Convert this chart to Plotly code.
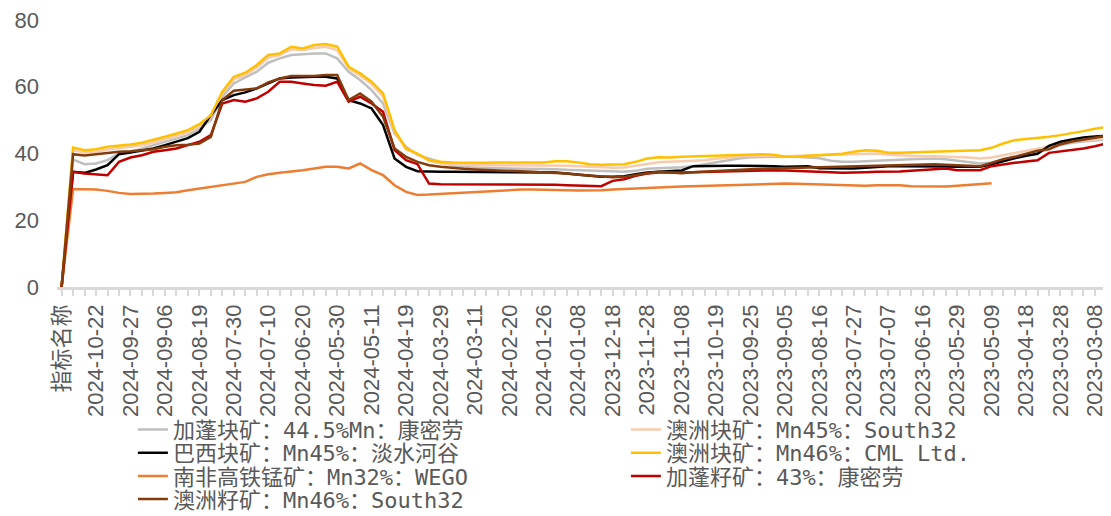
import plotly.graph_objects as go

# categories (newest first, as in the source sheet)
dates = [
    "指标名称",
    "2024-11-04", "2024-10-29", "2024-10-22",
    "2024-10-15", "2024-10-09", "2024-09-27",
    "2024-09-20", "2024-09-13", "2024-09-06",
    "2024-08-30", "2024-08-26", "2024-08-19",
    "2024-08-12", "2024-08-06", "2024-07-30",
    "2024-07-24", "2024-07-17", "2024-07-10",
    "2024-07-03", "2024-06-27", "2024-06-20",
    "2024-06-13", "2024-06-06", "2024-05-30",
    "2024-05-24", "2024-05-17", "2024-05-11",
    "2024-05-06", "2024-04-26", "2024-04-19",
    "2024-04-12", "2024-04-03", "2024-03-29",
    "2024-03-22", "2024-03-15", "2024-03-11",
    "2024-03-04", "2024-02-26", "2024-02-20",
    "2024-02-07", "2024-02-01", "2024-01-26",
    "2024-01-19", "2024-01-12", "2024-01-08",
    "2024-01-02", "2023-12-25", "2023-12-18",
    "2023-12-11", "2023-12-04", "2023-11-28",
    "2023-11-21", "2023-11-14", "2023-11-08",
    "2023-11-01", "2023-10-25", "2023-10-19",
    "2023-10-12", "2023-09-28", "2023-09-25",
    "2023-09-18", "2023-09-11", "2023-09-05",
    "2023-08-29", "2023-08-22", "2023-08-16",
    "2023-08-09", "2023-08-02", "2023-07-27",
    "2023-07-20", "2023-07-13", "2023-07-07",
    "2023-06-30", "2023-06-26", "2023-06-16",
    "2023-06-09", "2023-06-02", "2023-05-29",
    "2023-05-22", "2023-05-16", "2023-05-09",
    "2023-04-28", "2023-04-24", "2023-04-18",
    "2023-04-11", "2023-04-04", "2023-03-28",
    "2023-03-21", "2023-03-15", "2023-03-08",
    "2023-03-01", "2023-02-22",
]

tick_labels = [
    "指标名称", "2024-10-22", "2024-09-27", "2024-09-06", "2024-08-19",
    "2024-07-30", "2024-07-10", "2024-06-20", "2024-05-30", "2024-05-11",
    "2024-04-19", "2024-03-29", "2024-03-11", "2024-02-20", "2024-01-26",
    "2024-01-08", "2023-12-18", "2023-11-28", "2023-11-08", "2023-10-19",
    "2023-09-25", "2023-09-05", "2023-08-16", "2023-07-27", "2023-07-07",
    "2023-06-16", "2023-05-29", "2023-05-09", "2023-04-18", "2023-03-28",
    "2023-03-08",
]

gabon_lump = [
    0, 38.2, 36.8, 37, 38, 40, 40.5, 41.5, 42.5, 43.5,
    44.5, 45.5, 47.5, 50, 57, 61, 62.8, 64.5, 67.2, 68.5,
    69.5, 69.8, 70, 70, 68.5, 64.5, 62, 59, 55, 46,
    42, 39.5, 38.4, 37.5, 36.5, 36, 35.8, 35.6, 35.6, 35.5,
    35.5, 35.5, 35.4, 35.3, 35.1, 35, 34.8, 34.6, 34.5, 34.5,
    34.8, 35.4, 35.6, 35.7, 35.9, 36.2, 36.8, 37.4, 38, 38.5,
    38.9, 39, 39, 39, 39, 38.9, 38.6, 37.8, 37.5, 37.5,
    37.6, 37.8, 38, 38.1, 38.3, 38.4, 38.5, 38.3, 37.9, 37.5,
    37, 37.3, 38.2, 39, 39.8, 40.4, 41.2, 42.5, 43.2, 43.6,
    43.9, 44.3, 44.5,
]

aus_lump_s32 = [
    0, 41, 40.3, 40.5, 41.2, 41.6, 42, 42.5, 43.3, 44.3,
    45.3, 46.3, 48, 51, 58, 62.2, 63.5, 65.8, 68.7, 69.5,
    71.2, 71, 71.6, 72, 71, 65.5, 63.3, 60.8, 57, 46.5,
    41.2, 39.8, 37.8, 37, 36.7, 36.5, 36.5, 36.5, 36.5, 36.5,
    36.5, 36.5, 36.4, 36.4, 36.3, 36.2, 36, 35.8, 35.7, 35.8,
    36.3, 37, 37.4, 37.5, 37.6, 37.8, 38, 38.4, 38.8, 39.1,
    39.3, 39.4, 39.4, 39.2, 39.3, 39.5, 39.7, 39.8, 39.9, 40,
    40, 40, 39.6, 39.4, 39.3, 39.2, 39.2, 39.1, 39, 38.8,
    38.5, 38.8, 39.5, 40.2, 40.8, 41.4, 42, 43, 43.6, 44,
    44.3, 44.6, 44.8,
]

brazil_lump = [
    0, 34.5, 34.2, 35.2, 36.5, 39.8, 40.3, 40.8, 41.5, 42.5,
    43.5, 44.6, 46.5, 51.5, 56, 57.5, 58.3, 59.5, 61, 62.5,
    62.8, 63, 63, 63, 62.5, 56, 55, 53.5, 48.5, 38.5,
    36, 34.7, 34.5, 34.5, 34.5, 34.5, 34.5, 34.5, 34.5, 34.5,
    34.5, 34.5, 34.5, 34.3, 34, 33.6, 33.2, 33, 33, 33.2,
    33.8, 34.3, 34.5, 34.7, 34.9, 36.2, 36.3, 36.3, 36.3, 36.3,
    36.3, 36.2, 36.2, 36, 36.2, 36.2, 35.6, 35.5, 35.5, 35.5,
    35.7, 36, 36.2, 36.2, 36.2, 36.3, 36.3, 36.1, 36, 36,
    36, 36.8, 37.8, 38.6, 39.3, 39.9, 42.3, 43.5, 44.2, 44.8,
    45.1, 45.4, 45.5,
]

aus_lump_cml = [
    0, 41.8, 41, 41.3, 42, 42.3, 42.7, 43.2, 44, 45,
    46, 47, 48.8, 51.5, 58.5, 63, 64.2, 66.5, 69.5, 70,
    72, 71.5, 72.5, 72.8, 72, 66, 64, 61.5, 58, 47,
    41.5, 40, 38, 37.5, 37.3, 37.2, 37.2, 37.2, 37.3, 37.3,
    37.3, 37.3, 37.3, 37.7, 37.7, 37.3, 36.8, 36.6, 36.6, 36.8,
    37.5, 38.5, 38.9, 38.8, 39, 39.1, 39.2, 39.4, 39.6, 39.7,
    39.8, 39.8, 39.6, 39, 39.1, 39.3, 39.5, 39.7, 39.9, 40.5,
    41, 40.8, 40.2, 40.2, 40.3, 40.4, 40.5, 40.5, 40.6, 40.8,
    41, 41.7, 43, 44, 44.3, 44.6, 45, 45.5, 46, 46.7,
    47.4, 48, 48.3,
]

sa_wego = [
    0, 29.3, 29.3, 29.2, 28.8, 28.2, 27.9, 27.9, 28, 28.2,
    28.4, 29, 29.5, 30.2, 30.6, 31, 31.5, 33, 33.8, 34.2,
    34.5, 35, 35.5, 36, 36, 35.5, 37, 35, 33.5, 30.5,
    28.5, 27.6, 27.7, 27.9, 28, 28.2, 28.5, 28.8, 29, 29.1,
    29.2, 29.2, 29.2, 29.1, 29, 28.9, 28.9, 29, 29.2, 29.4,
    29.6, 29.8, 30, 30, 30.1, 30.2, 30.4, 30.6, 30.7, 30.8,
    30.9, 31, 31, 31, 30.9, 30.8, 30.7, 30.5, 30.3, 30.2,
    30.3, 30.5, 30.6, 30.5, 30.2, 30.1, 30.1, 30.1, 30.3, 30.6,
    30.9, 31.1, None, None, None, None, None, None, None, None,
    None, None, None,
]

gabon_fines = [
    0, 34.5, 34, 33.7, 33.5, 37.5, 38.8, 39.5, 40.5, 41,
    41.5, 42.5, 43.5, 45.5, 55, 56, 55.5, 56.5, 58.5, 61.5,
    61.5, 61, 60.5, 60.3, 61.5, 55.5, 57, 55, 52.5, 41,
    38, 36.8, 31, 30.8, 30.8, 30.8, 30.8, 30.8, 30.8, 30.8,
    30.8, 30.8, 30.7, 30.6, 30.5, 30.4, 30.2, 30.2, 31.8, 32.3,
    33.3, 34, 34.3, 34.2, 34.3, 34.4, 34.5, 34.6, 34.7, 34.8,
    35, 35, 35, 34.9, 34.8, 34.8, 34.7, 34.4, 34.2, 34.2,
    34.4, 34.5, 34.5, 34.6, 34.8, 35, 35.3, 35.5, 35, 35,
    35, 36.2, 36.8, 37.2, 37.6, 38, 40.2, 40.6, 41, 41.5,
    42.2, 43, 43.2,
]

aus_fines_s32 = [
    0, 39.8, 39.4, 39.8, 40.3, 40.5, 40.7, 41, 41.3, 42,
    42.5, 42.6, 43, 45, 56, 58.8, 59.2, 59.5, 61.3, 62.5,
    63.2, 63.2, 63.2, 63.5, 63.5, 56, 58, 55.5, 51, 41.5,
    39, 37.5, 36.5, 36, 35.6, 35.4, 35.2, 35.1, 35, 34.9,
    34.7, 34.5, 34.3, 34.2, 34, 33.6, 33.4, 33, 32.9, 33,
    33.6, 34.1, 34.5, 34.2, 34.1, 34.4, 34.6, 34.9, 35.1, 35.2,
    35.3, 35.4, 35.5, 35.6, 35.6, 35.6, 35.7, 35.8, 35.9, 36,
    36.1, 36.3, 36.4, 36.4, 36.6, 36.7, 36.8, 36.6, 36.4, 36.2,
    36.2, 37.2, 38.3, 39, 39.8, 40.8, 41.3, 42.8, 43.6, 44.2,
    44.8, 45.3, 45.5,
]

# name, values, colour, legend row
series = [
    ("加蓬块矿：44.5%Mn：康密劳", gabon_lump, "#bfbfbf", "legend"),
    ("澳洲块矿：Mn45%：South32", aus_lump_s32, "#f8cbad", "legend"),
    ("巴西块矿：Mn45%：淡水河谷", brazil_lump, "#000000", "legend2"),
    ("澳洲块矿：Mn46%：CML Ltd.", aus_lump_cml, "#ffc000", "legend2"),
    ("南非高铁锰矿：Mn32%：WEGO", sa_wego, "#ed7d31", "legend3"),
    ("加蓬籽矿：43%：康密劳", gabon_fines, "#c00000", "legend3"),
    ("澳洲籽矿：Mn46%：South32", aus_fines_s32, "#843c0c", "legend4"),
]

fig = go.Figure()
for name, vals, color, leg in series:
    fig.add_trace(go.Scatter(
        x=dates,
        y=vals,
        mode="lines",
        name=name,
        legend=leg,
        line=dict(color=color, width=2.5),
    ))

ticktext = [d if d in tick_labels else "" for d in dates]

legend_font = dict(family="DejaVu Sans Mono, Noto Sans CJK SC", size=22, color="#595959")


def row_legend(y):
    return dict(
        orientation="h",
        x=0.072,
        xanchor="left",
        y=y,
        yanchor="top",
        entrywidth=448,
        entrywidthmode="pixels",
        font=legend_font,
        bgcolor="rgba(0,0,0,0)",
    )


# the page adds an 8px body margin, so the figure is 8px smaller
fig.update_layout(
    width=1103,
    height=508,
    margin=dict(l=49, r=0, t=12, b=229, autoexpand=False),
    plot_bgcolor="white",
    paper_bgcolor="white",
    font=dict(family="Liberation Sans, Noto Sans CJK SC", color="#595959", size=22),
    showlegend=True,
    legend=row_legend(-0.456),
    legend2=row_legend(-0.543),
    legend3=row_legend(-0.630),
    legend4=row_legend(-0.716),
    xaxis=dict(
        type="category",
        categoryorder="array",
        categoryarray=dates,
        range=[-0.4, 91.4],
        tickmode="array",
        tickvals=dates,
        ticktext=ticktext,
        tickangle=-90,
        ticks="outside",
        ticklen=6,
        tickwidth=2,
        tickcolor="#d9d9d9",
        showline=True,
        linecolor="#d9d9d9",
        linewidth=2.5,
        showgrid=False,
        automargin=False,
        tickfont=dict(size=22, color="#595959"),
    ),
    yaxis=dict(
        range=[0, 80],
        dtick=20,
        showgrid=False,
        zeroline=False,
        showline=False,
        ticks="",
        ticklabelstandoff=17,
        ticklabeloverflow="allow",
        automargin=False,
        tickfont=dict(size=22, color="#595959"),
    ),
)

fig.write_html("out.html")
